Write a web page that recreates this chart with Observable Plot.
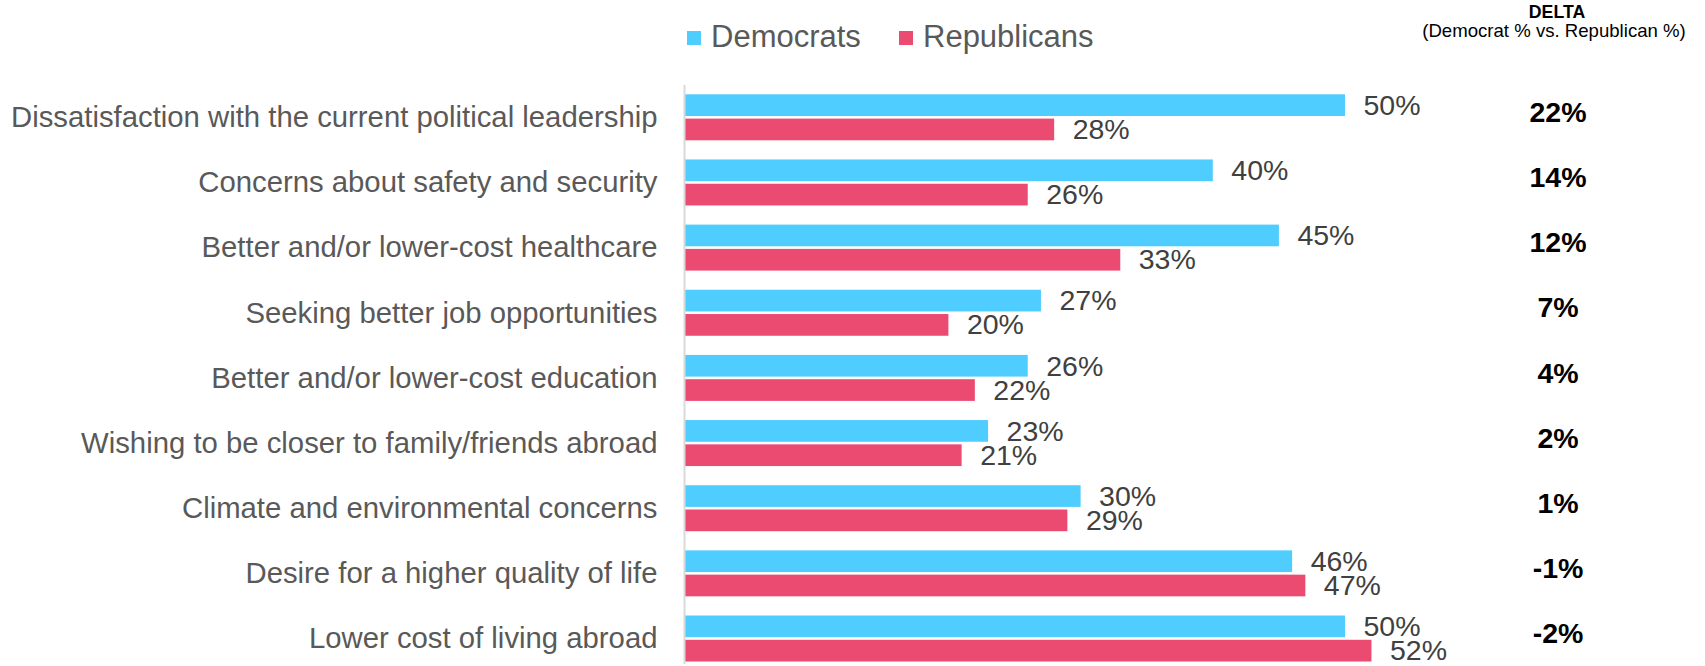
<!DOCTYPE html>
<html>
<head>
<meta charset="utf-8">
<script src="https://cdn.jsdelivr.net/npm/d3@7"></script>
<script src="https://cdn.jsdelivr.net/npm/@observablehq/plot@0.6"></script>
<style>
  html, body { margin: 0; padding: 0; background: #ffffff; }
  body { width: 1705px; height: 666px; overflow: hidden; font-family: "Liberation Sans", Arial, sans-serif; }
  #header { position: relative; width: 1705px; height: 80px; }
  #header .t { position: absolute; line-height: 1; white-space: nowrap; }
  #header .sw { position: absolute; width: 14px; height: 14px; }
  svg { display: block; }
</style>
</head>
<body>
<div id="header"></div>
<div id="chart"></div>
<script>
const categories = [
  "Dissatisfaction with the current political leadership",
  "Concerns about safety and security",
  "Better and/or lower-cost healthcare",
  "Seeking better job opportunities",
  "Better and/or lower-cost education",
  "Wishing to be closer to family/friends abroad",
  "Climate and environmental concerns",
  "Desire for a higher quality of life",
  "Lower cost of living abroad"
];
const democrats   = [50, 40, 45, 27, 26, 23, 30, 46, 50];
const republicans = [28, 26, 33, 20, 22, 21, 29, 47, 52];
const deltas      = [22, 14, 12, 7, 4, 2, 1, -1, -2];
const seriesNames = ["Democrats", "Republicans"];
const seriesColors = ["#50CDFF", "#EB4A71"];
const deltaTitle = "DELTA";
const deltaSubtitle = "(Democrat % vs. Republican %)";

// header (legend + delta column title)
const header = document.getElementById("header");
function addText(txt, opts) {
  const s = document.createElement("div");
  s.className = "t";
  s.textContent = txt;
  Object.assign(s.style, opts);
  header.appendChild(s);
}
function addSwatch(color, left, top) {
  const s = document.createElement("div");
  s.className = "sw";
  s.style.background = color;
  s.style.left = left + "px";
  s.style.top = top + "px";
  header.appendChild(s);
}
addSwatch(seriesColors[0], 687, 30.5);
addText(seriesNames[0], {left: "711px", top: "20.5px", fontSize: "31px", color: "#595959"});
addSwatch(seriesColors[1], 899, 30.5);
addText(seriesNames[1], {left: "923px", top: "20.5px", fontSize: "31px", color: "#595959"});
addText(deltaTitle, {left: "1457px", width: "200px", textAlign: "center", top: "4px", fontSize: "17.7px", fontWeight: "bold", color: "#000"});
addText(deltaSubtitle, {left: "1404px", width: "300px", textAlign: "center", top: "22px", fontSize: "18.6px", color: "#000"});

const demRows = categories.map((c, i) => ({category: c, value: democrats[i]}));
const repRows = categories.map((c, i) => ({category: c, value: republicans[i]}));
const deltaRows = categories.map((c, i) => ({category: c, delta: deltas[i]}));

const chart = Plot.plot({
  width: 1705,
  height: 586,
  marginLeft: 684,
  marginRight: 0,
  marginTop: 5,
  marginBottom: 2,
  style: {fontFamily: "Liberation Sans, Arial, sans-serif", background: "#ffffff"},
  x: {domain: [0, 77.23], axis: null},
  y: {domain: categories, range: [14.3, 581.5], paddingInner: 0.294, paddingOuter: 0, round: false, label: null},
  marks: [
    Plot.barX(demRows, {x: "value", y: "category", fill: seriesColors[0], insetBottom: 24.3}),
    Plot.barX(repRows, {x: "value", y: "category", fill: seriesColors[1], insetTop: 24.3}),
    Plot.ruleX([0], {stroke: "#d9d9d9", strokeWidth: 2}),
    Plot.text(demRows, {x: "value", y: "category", text: d => d.value + "%", textAnchor: "start", dx: 18, dy: -12, fontSize: 28.5, fill: "#404040"}),
    Plot.text(repRows, {x: "value", y: "category", text: d => d.value + "%", textAnchor: "start", dx: 18, dy: 12, fontSize: 28.5, fill: "#404040"}),
    Plot.text(deltaRows, {y: "category", text: d => d.delta + "%", frameAnchor: "right", textAnchor: "middle", dx: -147.5, dy: -5, fontSize: 28.5, fontWeight: "bold", fill: "#000000"}),
    Plot.axisY({tickSize: 0, tickPadding: 27, fontSize: 29.3, fill: "#595959", label: null})
  ]
});
document.getElementById("chart").appendChild(chart);
</script>
</body>
</html>
